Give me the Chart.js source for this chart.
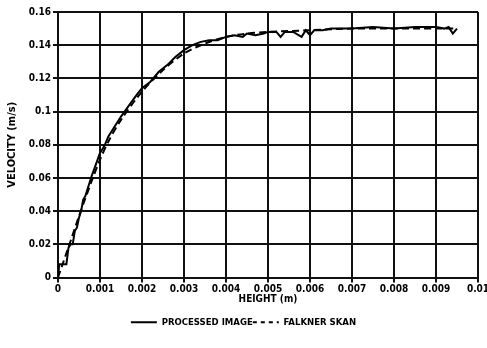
<!DOCTYPE html>
<html>
<head>
<meta charset="utf-8">
<script src="https://cdn.jsdelivr.net/npm/chart.js@4/dist/chart.umd.min.js"></script>
<style>
  html, body { margin: 0; padding: 0; background: #fff; }
  #box { width: 487px; height: 348px; }
</style>
</head>
<body>
<div id="box"><canvas id="grafico"></canvas></div>
<script>
// ============================
// DADOS
// ============================
const alturaImg = [0, 0.00003, 0.0002, 0.00025, 0.0003, 0.00035, 0.0004, 0.00045, 0.0005, 0.00055,
  0.0006, 0.00065, 0.0007, 0.0008, 0.0009, 0.001, 0.0011, 0.0012, 0.0013, 0.0015, 0.0017, 0.0019,
  0.002, 0.0022, 0.0024, 0.0026, 0.0028, 0.003, 0.0032, 0.0034, 0.0036, 0.0038, 0.004, 0.0042,
  0.0044, 0.0045, 0.0047, 0.0049, 0.005, 0.0052, 0.0053, 0.0054, 0.0056, 0.0058, 0.0059, 0.006,
  0.0061, 0.0063, 0.0065, 0.007, 0.0075, 0.008, 0.0085, 0.009, 0.0092, 0.0093, 0.0094, 0.0095];
const velImg = [0, 0.008, 0.008, 0.018, 0.02, 0.02, 0.028, 0.03, 0.036, 0.04,
  0.047, 0.049, 0.053, 0.061, 0.068, 0.075, 0.079, 0.085, 0.089, 0.097, 0.104, 0.111,
  0.114, 0.118, 0.124, 0.128, 0.133, 0.137, 0.140, 0.142, 0.143, 0.143, 0.145, 0.146,
  0.145, 0.147, 0.146, 0.147, 0.148, 0.148, 0.145, 0.148, 0.148, 0.145, 0.149, 0.146,
  0.149, 0.149, 0.150, 0.150, 0.151, 0.150, 0.151, 0.151, 0.150, 0.151, 0.147, 0.150];

const alturaFS = [0, 0.0003, 0.0005, 0.0008, 0.001, 0.0012, 0.0015, 0.002, 0.0025, 0.003, 0.0035,
  0.004, 0.0045, 0.005, 0.006, 0.007, 0.008, 0.009, 0.0095];
const velFS = [0, 0.022, 0.037, 0.058, 0.071, 0.082, 0.095, 0.112, 0.125, 0.135, 0.141,
  0.145, 0.147, 0.148, 0.149, 0.150, 0.150, 0.150, 0.150];

const ticksX = [0, 0.001, 0.002, 0.003, 0.004, 0.005, 0.006, 0.007, 0.008, 0.009, 0.01];
const ticksY = [0, 0.02, 0.04, 0.06, 0.08, 0.1, 0.12, 0.14, 0.16];

const fonte = "'Liberation Sans Narrow', 'DejaVu Sans Condensed', sans-serif";
const pontos = (xs, ys) => xs.map((x, i) => ({ x, y: ys[i] }));
const rotulo = v => String(Number(v.toFixed(4)));

// legenda com estilo de linha: recoloca o tracejado de cada série
const legendaLinhas = chart =>
  Chart.defaults.plugins.legend.labels.generateLabels(chart).map((item, i) => ({
    ...item,
    lineDash: chart.data.datasets[i].borderDash ? [4, 4] : [],
    lineWidth: 2
  }));

new Chart(document.getElementById('grafico'), {
  type: 'line',
  data: {
    datasets: [
      { label: 'PROCESSED IMAGE', data: pontos(alturaImg, velImg), borderColor: '#000',
        borderWidth: 2, pointRadius: 0, tension: 0, fill: false },
      { label: 'FALKNER SKAN', data: pontos(alturaFS, velFS), borderColor: '#000',
        borderWidth: 2, borderDash: [7, 4], pointRadius: 0, tension: 0.3, fill: false }
    ]
  },
  options: {
    responsive: true,
    maintainAspectRatio: false,
    animation: false,
    layout: { padding: { top: 12, left: 0, right: 0, bottom: 11 } },
    plugins: {
      tooltip: { enabled: false },
      legend: {
        position: 'bottom',
        labels: {
          usePointStyle: true, pointStyle: 'line', pointStyleWidth: 26, boxHeight: 10,
          padding: 0, color: '#000', generateLabels: legendaLinhas,
          font: { family: fonte, size: 9.5, weight: 'bold' }
        }
      }
    },
    scales: {
      x: {
        type: 'linear', min: 0, max: 0.01,
        afterBuildTicks: s => { s.ticks = ticksX.map(v => ({ value: v })); },
        afterFit: s => { s.paddingRight = 9; s.height = 40; },
        grid: { color: '#111', lineWidth: 2, tickLength: 5 },
        border: { color: '#111', width: 2 },
        ticks: { color: '#000', padding: 1, maxRotation: 0, autoSkip: false,
          font: { family: fonte, size: 10, weight: 'bold' }, callback: rotulo },
        title: { display: true, text: 'HEIGHT (m)', color: '#000', padding: { top: 0, bottom: 12 },
          font: { family: fonte, size: 10, weight: 'bold' } }
      },
      y: {
        min: 0, max: 0.16,
        afterBuildTicks: s => { s.ticks = ticksY.map(v => ({ value: v })); },
        afterFit: s => { s.width = 58; },
        grid: { color: '#111', lineWidth: 2, tickLength: 5 },
        border: { color: '#111', width: 2 },
        ticks: { color: '#000', padding: 2, autoSkip: false,
          font: { family: fonte, size: 10, weight: 'bold' }, callback: rotulo },
        title: { display: true, text: 'VELOCITY (m/s)', color: '#000', padding: { top: 6, bottom: 0 },
          font: { family: fonte, size: 11, weight: 'bold' } }
      }
    }
  }
});
</script>
</body>
</html>
